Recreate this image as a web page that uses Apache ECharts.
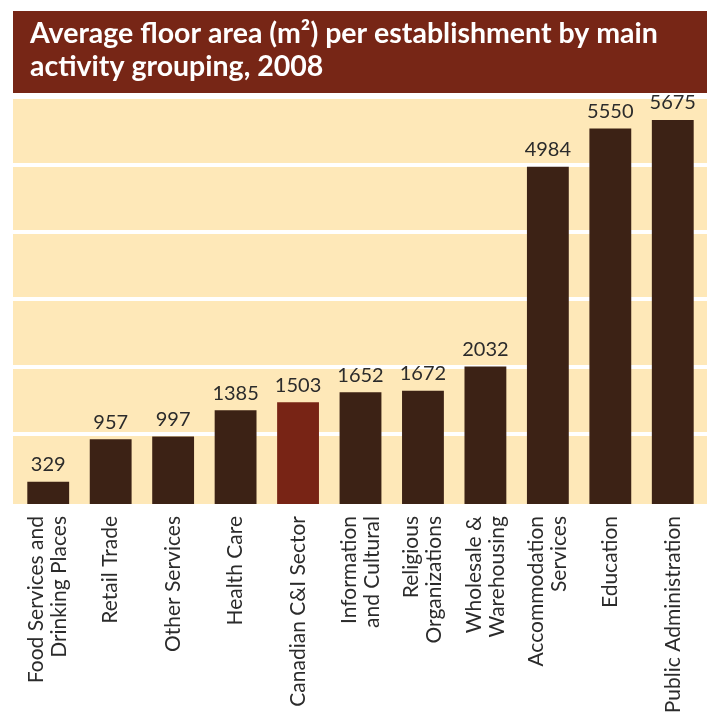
<!DOCTYPE html>
<html><head><meta charset="utf-8">
<script src="https://cdn.jsdelivr.net/npm/echarts@6/dist/echarts.min.js"></script>
<style>html,body{margin:0;padding:0;background:#fff}#c{width:707px;height:717px}</style>
</head><body><div id="c"></div>
<script>
const categories = ["Food Services and\nDrinking Places","Retail Trade","Other Services","Health Care","Canadian C&I Sector","Information\nand Cultural","Religious\nOrganizations","Wholesale &\nWarehousing","Accommodation\nServices","Education","Public Administration"];
const values = [329,957,997,1385,1503,1652,1672,2032,4984,5550,5675];
const highlightIndex = 4;
const titleLines = ["Average floor area (m²) per establishment by main","activity grouping, 2008"];

const FONT = "Lato";
const chart = echarts.init(document.getElementById('c'), null, {renderer:'canvas'});
chart.setOption({
  animation:false,
  backgroundColor:'#ffffff',
  graphic:[
    {type:'rect', shape:{x:13,y:11,width:694,height:82}, style:{fill:'#772616'}, z:-10},
    {type:'rect', shape:{x:13,y:97,width:694,height:407}, style:{fill:'#fee8b8'}, z:-10},
    {type:'text', left:30, top:17, style:{text:titleLines.join('\n'), fill:'#fff', font:'bold 28.5px '+FONT, lineHeight:33}, z:10}
  ],
  grid:[
    {left:13, right:0, top:97, bottom:216},
    {left:17, right:3, top:98, bottom:213}
  ],
  xAxis:[
    {gridIndex:0, type:'category', data:categories, show:false},
    {gridIndex:1, type:'category', data:categories,
     axisLine:{show:false}, axisTick:{show:false},
     axisLabel:{rotate:90, interval:0, margin:12, color:'#2b2b2b', fontFamily:FONT, fontSize:21, lineHeight:23}}
  ],
  yAxis:[
    {gridIndex:0, type:'value', min:0, max:6000, interval:1000, axisLabel:{show:false}, axisLine:{show:false}, axisTick:{show:false},
     splitLine:{showMinLine:false, lineStyle:{color:'#ffffff', width:4}}},
    {gridIndex:1, type:'value', min:0, max:6000, interval:1000, show:false, splitLine:{show:false}}
  ],
  series:[{
    type:'bar', xAxisIndex:1, yAxisIndex:1, barWidth:'67%',
    data: values.map((v,i)=>({value:v, itemStyle:{color: i===highlightIndex ? '#782415' : '#3c2215'}})),
    label:{show:true, position:'top', distance:7, color:'#2b2b2b', fontFamily:FONT, fontSize:20}
  }]
});
</script></body></html>
